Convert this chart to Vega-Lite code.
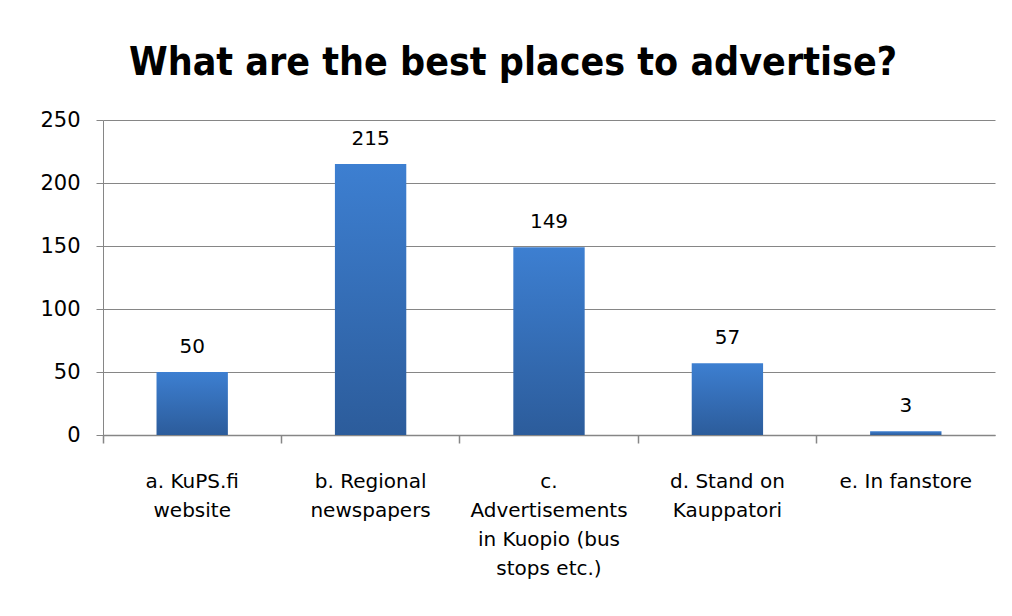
{
  "$schema": "https://vega.github.io/schema/vega-lite/v6.json",
  "width": 892,
  "height": 315,
  "autosize": {"type": "none"},
  "padding": {"left": 103, "top": 120, "right": 17, "bottom": 181},
  "background": "white",
  "title": {
    "text": "What are the best places to advertise?",
    "font": "Liberation Sans Narrow, DejaVu Sans Condensed, Liberation Sans",
    "fontSize": 39,
    "fontWeight": "bold",
    "color": "#000000",
    "anchor": "middle",
    "baseline": "alphabetic",
    "dx": -36,
    "offset": -5
  },
  "data": {
    "values": [
      {"place": "a. KuPS.fi\nwebsite", "count": 50},
      {"place": "b. Regional\nnewspapers", "count": 215},
      {"place": "c.\nAdvertisements\nin Kuopio (bus\nstops etc.)", "count": 149},
      {"place": "d. Stand on\nKauppatori", "count": 57},
      {"place": "e. In fanstore", "count": 3}
    ]
  },
  "encoding": {
    "y": {
      "field": "count",
      "type": "quantitative",
      "scale": {"domain": [0, 250]},
      "axis": {
        "title": null,
        "values": [0, 50, 100, 150, 200, 250],
        "labelFont": "DejaVu Sans",
        "labelFontSize": 21,
        "labelColor": "#000000",
        "labelPadding": 16,
        "tickSize": 7,
        "tickColor": "#868686",
        "domainColor": "#868686",
        "gridColor": "#868686",
        "grid": true,
        "gridWidth": 1
      }
    }
  },
  "layer": [
    {
      "mark": {
        "type": "bar",
        "width": {"band": 0.4},
        "color": {
          "gradient": "linear",
          "x1": 0, "y1": 0, "x2": 0, "y2": 1,
          "stops": [
            {"offset": 0, "color": "#3d7fd1"},
            {"offset": 1, "color": "#2c5c9b"}
          ]
        }
      },
      "encoding": {
        "x": {
          "field": "place",
          "type": "nominal",
          "sort": null,
          "scale": {"paddingInner": 0, "paddingOuter": 0},
          "axis": {
            "orient": "bottom",
            "title": null,
            "labelAngle": 0,
            "labelExpr": "split(datum.label, '\\n')",
            "labelFont": "DejaVu Sans",
            "labelFontSize": 20,
            "labelColor": "#000000",
            "labelLineHeight": 29,
            "labelBaseline": "alphabetic",
            "labelPadding": 52,
            "labelLimit": 300,
            "ticks": false,
            "domain": true,
            "domainColor": "#868686",
            "domainWidth": 1.5,
            "grid": false,
            "bandPosition": 0.5
          }
        }
      }
    },
    {
      "mark": {
        "type": "text",
        "baseline": "alphabetic",
        "dy": -19,
        "font": "DejaVu Sans",
        "fontSize": 20,
        "color": "#000000"
      },
      "encoding": {
        "x": {
          "field": "place",
          "type": "nominal",
          "sort": null,
          "axis": {
            "orient": "bottom",
            "title": null,
            "labels": false,
            "ticks": true,
            "tickSize": 8,
            "tickColor": "#868686",
            "tickWidth": 1.5,
            "domain": false,
            "grid": false,
            "bandPosition": 0
          }
        },
        "text": {"field": "count", "type": "quantitative"}
      }
    }
  ],
  "resolve": {"axis": {"x": "independent"}},
  "config": {"view": {"stroke": null}}
}
